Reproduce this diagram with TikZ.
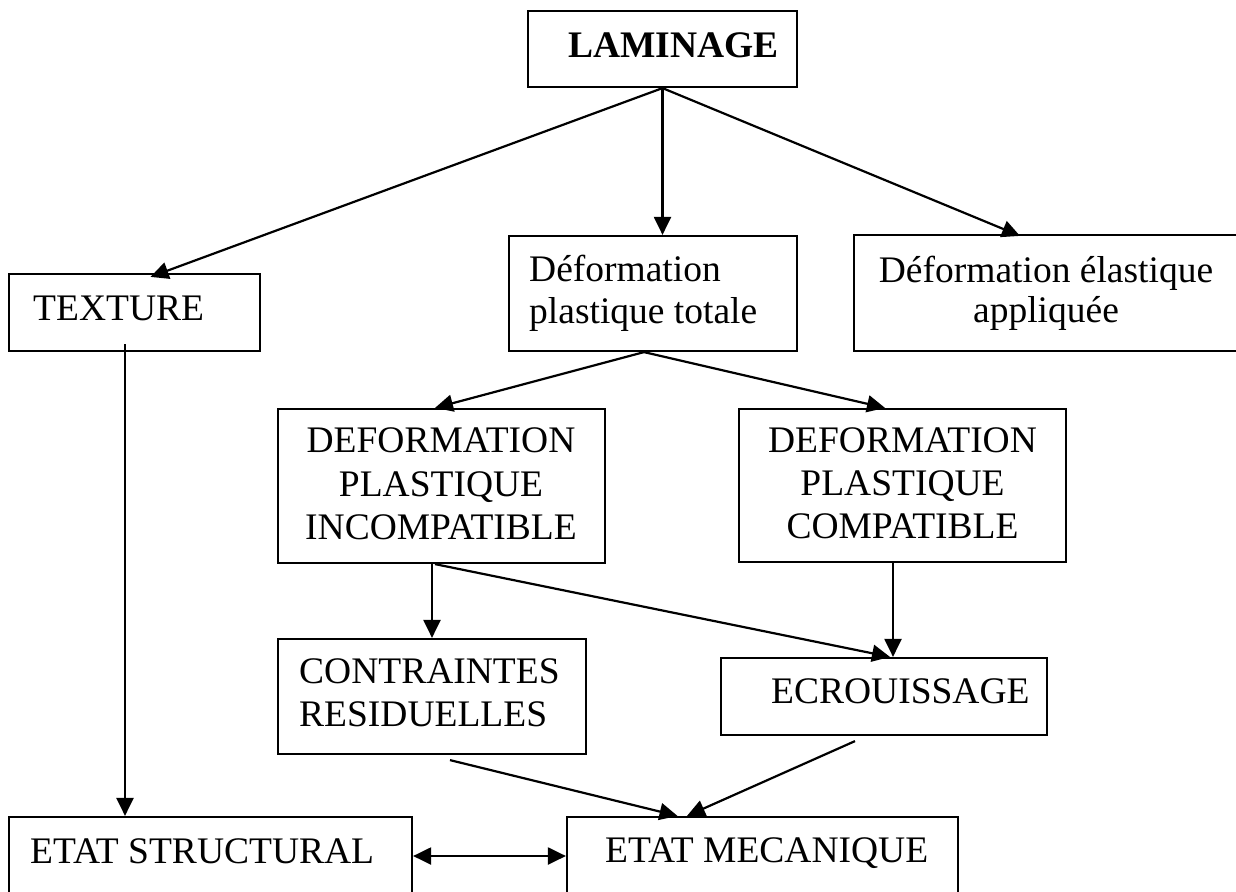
\documentclass[tikz,border=0pt]{standalone}
\usepackage{fontspec}
\setmainfont{Liberation Serif}
\usetikzlibrary{arrows.meta}

\tikzset{
  box/.style={draw, line width=2.2pt, rectangle, inner sep=0pt},
  lbl/.style={inner sep=0pt, font=\fontsize{37.5}{43}\selectfont},
  tip/.tip={Triangle[length=18pt,width=17pt]},
  conn/.style={line width=2.2pt, -tip},
  twoway/.style={line width=2.2pt, tip-tip}
}

\begin{document}
\begin{tikzpicture}[x=1pt, y=-1pt]
  \clip (0,0) rectangle (1236,891);
  \fill[white] (0,0) rectangle (1236,891);

  % boxes
  \node[box, minimum width=269pt, minimum height=76pt]  (lam)  at (662.5,49)   {};
  \node[box, minimum width=251pt, minimum height=77pt]  (tex)  at (134.5,312.5) {};
  \node[box, minimum width=288pt, minimum height=115pt] (tot)  at (653,293.5)  {};
  \node[box, minimum width=396pt, minimum height=116pt] (ela)  at (1052,293)   {};
  \node[box, minimum width=327pt, minimum height=154pt] (inc)  at (441.5,486)  {};
  \node[box, minimum width=327pt, minimum height=153pt] (comp) at (902.5,485.5) {};
  \node[box, minimum width=308pt, minimum height=115pt] (cont) at (432,696.5)  {};
  \node[box, minimum width=326pt, minimum height=77pt]  (ecr)  at (884,696.5)  {};
  \node[box, minimum width=403pt, minimum height=78pt]  (stru) at (210.5,856)  {};
  \node[box, minimum width=391pt, minimum height=78pt]  (mec)  at (762.5,856)  {};

  % labels
  \node[lbl, anchor=base west, font=\fontsize{37.5}{43}\selectfont\bfseries] (tlam) at (568,57) {LAMINAGE};
  \node[lbl, anchor=base west] (ttex) at (33,320) {TEXTURE};
  \node[lbl, anchor=base west] (ttot1) at (529,281) {Déformation};
  \node[lbl, anchor=base west] (ttot2) at (529,323) {plastique totale};
  \node[lbl, anchor=base] (tela1) at (1046,282) {Déformation élastique};
  \node[lbl, anchor=base] (tela2) at (1046,322) {appliquée};
  \node[lbl, anchor=base] (tinc1) at (441,452) {DEFORMATION};
  \node[lbl, anchor=base] (tinc2) at (441,496) {PLASTIQUE};
  \node[lbl, anchor=base] (tinc3) at (441,539) {INCOMPATIBLE};
  \node[lbl, anchor=base] (tcomp1) at (902.5,452) {DEFORMATION};
  \node[lbl, anchor=base] (tcomp2) at (902.5,495) {PLASTIQUE};
  \node[lbl, anchor=base] (tcomp3) at (902.5,538) {COMPATIBLE};
  \node[lbl, anchor=base west] (tcont1) at (299,683) {CONTRAINTES};
  \node[lbl, anchor=base west] (tcont2) at (299,726) {RESIDUELLES};
  \node[lbl, anchor=base west] (tecr) at (771,703) {ECROUISSAGE};
  \node[lbl, anchor=base west] (tstru) at (30,863) {ETAT STRUCTURAL};
  \node[lbl, anchor=base west] (tmec) at (605,862) {ETAT MECANIQUE};

  % connectors from LAMINAGE
  \draw[conn] (lam.south) -- ([xshift=16pt,yshift=-4pt]tex.north);
  \draw[conn] (lam.south) -- (tot.north -| lam.south);
  \draw[conn] (lam.south) -- ([xshift=-32pt,yshift=-2pt]ela.north);

  % connectors from total plastic deformation
  \draw[conn] ([xshift=-9pt]tot.south) -- ([xshift=-6.5pt]inc.north);
  \draw[conn] ([xshift=-9pt]tot.south) -- ([xshift=-17.5pt]comp.north);

  % incompatible / compatible branches
  \draw[conn] ([xshift=-9.5pt]inc.south) -- (cont.north);
  \draw[conn] ([xshift=-6.5pt]inc.south) -- ([xshift=6pt]ecr.north);
  \draw[conn] ([xshift=-9.5pt]comp.south) -- ([xshift=9pt]ecr.north);

  % towards the mechanical state
  \draw[conn] ([xshift=18pt,yshift=-5pt]cont.south) -- ([xshift=-85pt]mec.north);
  \draw[conn] ([xshift=-29pt,yshift=-5pt]ecr.south) -- ([xshift=-75.5pt]mec.north);

  % texture to structural state
  \draw[conn] ([xshift=-9.5pt,yshift=8pt]tex.south) -- ([xshift=-85.5pt]stru.north);

  % structural <-> mechanical
  \draw[twoway] (stru.east) -- (mec.west);
\end{tikzpicture}
\end{document}
